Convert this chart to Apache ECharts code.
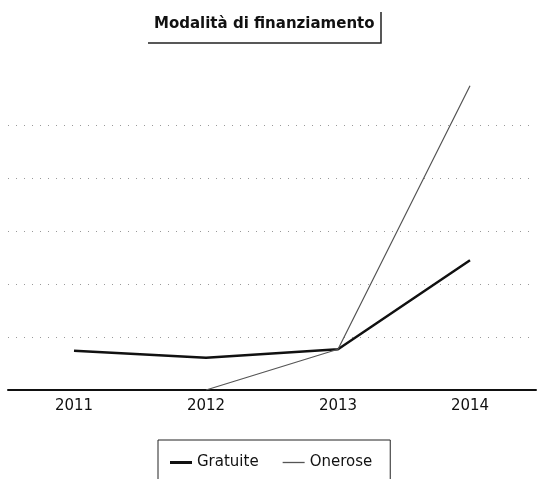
<!DOCTYPE html>
<html>
<head>
<meta charset="utf-8">
<script src="https://cdn.jsdelivr.net/npm/echarts@6/dist/echarts.min.js"></script>
<style>
  html, body { margin: 0; padding: 0; background: #fff; }
  #chart { width: 539px; height: 479px; }
</style>
</head>
<body>
<div id="chart"></div>
<script>
// data (no y labels, so units are arbitrary)
var years = ['2011', '2012', '2013', '2014'];
var gratuite = [7.4, 6.1, 7.7, 24.5];
var onerose = [null, 0, 7.7, 57.5];

var myChart = echarts.init(document.getElementById('chart'));
var font = 'DejaVu Sans';

var option = {
  backgroundColor: '#fff',
  animation: false,
  title: {
    text: 'Modalità di finanziamento',
    left: 154,
    top: 17,
    padding: 0,
    textStyle: { fontFamily: font, fontSize: 15, fontWeight: 'bold', color: '#111' }
  },
  graphic: [
    {
      // bits of the title frame that survived the scan
      type: 'polyline',
      shape: { points: [[148, 43], [381, 43], [381, 12]] },
      style: { stroke: '#222', lineWidth: 1.5, fill: null }
    }
  ],
  legend: {
    top: 440,
    left: 158,
    orient: 'horizontal',
    borderColor: '#222',
    borderWidth: 1,
    padding: [15, 18, 24, 12],
    itemWidth: 22,
    itemHeight: 12,
    itemGap: 24,
    textStyle: { fontFamily: font, fontSize: 15, color: '#111' },
    data: [
      { name: 'Gratuite', icon: 'path://M0,0H22V3H0Z', itemStyle: { color: '#111' } },
      { name: 'Onerose', icon: 'path://M0,0H22V1.3H0Z', itemStyle: { color: '#555' } }
    ]
  },
  grid: { left: 8, right: 3, top: 83, bottom: 89 },
  xAxis: {
    type: 'category',
    data: years,
    boundaryGap: true,
    axisLine: { lineStyle: { color: '#111', width: 2 } },
    axisTick: { show: false },
    axisLabel: { fontFamily: font, fontSize: 15, color: '#111', margin: 9 }
  },
  yAxis: {
    type: 'value',
    min: 0,
    max: 58,
    interval: 10,
    axisLine: { show: false },
    axisTick: { show: false },
    axisLabel: { show: false },
    splitLine: { showMaxLine: false, lineStyle: { type: [1, 7], color: '#999', width: 1 } }
  },
  series: [
    {
      name: 'Gratuite',
      type: 'line',
      data: gratuite,
      symbol: 'none',
      lineStyle: { color: '#111', width: 2.5 },
      itemStyle: { color: '#111' }
    },
    {
      name: 'Onerose',
      type: 'line',
      data: onerose,
      symbol: 'none',
      lineStyle: { color: '#555', width: 1.2 },
      itemStyle: { color: '#555' }
    }
  ]
};

myChart.setOption(option);
</script>
</body>
</html>
